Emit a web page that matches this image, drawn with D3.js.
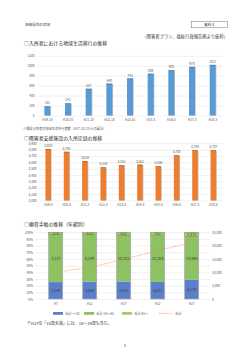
<!DOCTYPE html>
<html lang="ja">
<head>
<meta charset="utf-8">
<title>茨城県内の状況</title>
<script src="https://d3js.org/d3.v7.min.js"></script>
<style>
  body { margin: 0; background: #fff; }
  text { font-family: "Noto Sans CJK JP", "Noto Sans", sans-serif; }
  .tick text { fill: #595959; }
  .grid line { stroke: #d9d9d9; stroke-width: 0.4; }
</style>
</head>
<body>
<script>
// 地域生活移行
var moveCats = ["H19.10", "H20.10", "H21.10", "H22.10", "H23.10", "H25.3", "H26.3", "H27.3", "H28.3"];
var moveVals = [181, 242, 537, 640, 743, 839, 908, 978, 1017];
var moveTicks = [0, 200, 400, 600, 800, 1000, 1200];

// 入所定員
var capCats = ["H19.3", "H20.3", "H21.3", "H22.3", "H23.3", "H24.3", "H25.3", "H26.3", "H27.3", "H28.3"];
var capVals = [3808, 3765, 3619, 3519, 3552, 3562, 3536, 3708, 3788, 3787];
var capTicks = [3000, 3100, 3200, 3300, 3400, 3500, 3600, 3700, 3800, 3900];

// 療育手帳
var bookCats = ["H7", "H12", "H17", "H22", "H27"];
var under18 = [2549, 3064, 3915, 4627, 6138];
var age18to65 = [7127, 8293, 10342, 12504, 13696];
var over65 = [370, 415, 632, 932, 1372];
var bookTotal = [10046, 11772, 14889, 18063, 21206];
var pctTicks = [0, .1, .2, .3, .4, .5, .6, .7, .8, .9, 1];
var cntTicks = [0, 5000, 10000, 15000, 20000, 25000];
var legendNames = ["合計 ～18", "合計 18～65", "合計 65～", "合計"];

var width = 250, height = 353;
var svg = d3.select("body").append("svg")
  .attr("width", width).attr("height", height);

var fmt = d3.format(",");

// header
svg.append("text").attr("x", 25).attr("y", 25.5).attr("font-size", 3.6).attr("fill", "#333").text("茨城県内の状況");
svg.append("rect").attr("x", 191.5).attr("y", 21.3).attr("width", 36).attr("height", 6.5)
  .attr("fill", "none").attr("stroke", "#555").attr("stroke-width", 0.4);
svg.append("text").attr("x", 209.5).attr("y", 25.9).attr("font-size", 3.6).attr("text-anchor", "middle").attr("fill", "#333").text("資料４");
svg.append("text").attr("x", 228).attr("y", 37.5).attr("font-size", 4.3).attr("text-anchor", "end").attr("fill", "#333").text("（障害者プラン、福祉行政報告例より抜粋）");

function heading(y, t) {
  svg.append("text").attr("x", 24).attr("y", y).attr("font-size", 4.9).attr("fill", "#222").text(t);
}
heading(45.3, "○入所者における地域生活移行の推移");
heading(140.2, "○障害者支援施設の入所定員の推移");
heading(226, "○療育手帳の推移（年齢別）");

// simple bar chart
function barChart(opt) {
  var g = svg.append("g");
  var x = d3.scaleBand().domain(opt.cats).range(opt.xr);
  var y = d3.scaleLinear().domain(opt.dom).range(opt.yr);

  g.append("g").attr("class", "grid")
    .attr("transform", "translate(" + opt.xr[0] + ",0)")
    .call(d3.axisLeft(y).tickValues(opt.ticks).tickSize(-(opt.xr[1] - opt.xr[0]))
      .tickFormat(opt.tf).tickPadding(2.5))
    .call(function (a) { a.select(".domain").remove(); })
    .selectAll("text").attr("font-size", 3.2);

  var bw = opt.bw;
  var bars = g.selectAll(".bar").data(opt.vals).enter();
  bars.append("rect")
    .attr("x", function (d, i) { return x(opt.cats[i]) + x.bandwidth() / 2 - bw / 2 + 0.7; })
    .attr("y", function (d) { return y(d) + 0.4; })
    .attr("width", bw).attr("height", function (d) { return y(opt.dom[0]) - y(d) - 0.4; })
    .attr("fill", "#bfbfbf");
  bars.append("rect")
    .attr("x", function (d, i) { return x(opt.cats[i]) + x.bandwidth() / 2 - bw / 2; })
    .attr("y", function (d) { return y(d); })
    .attr("width", bw).attr("height", function (d) { return y(opt.dom[0]) - y(d); })
    .attr("fill", opt.color);
  bars.append("rect")
    .attr("x", function (d, i) { return x(opt.cats[i]) + x.bandwidth() / 2 - bw / 2; })
    .attr("y", function (d) { return y(d); })
    .attr("width", bw).attr("height", 0.6)
    .attr("fill", opt.dark);
  bars.append("text")
    .attr("x", function (d, i) { return x(opt.cats[i]) + x.bandwidth() / 2; })
    .attr("y", function (d) { return y(d) - 2; })
    .attr("text-anchor", "middle").attr("font-size", 3.2).attr("fill", "#595959")
    .text(function (d) { return opt.tf(d); });

  g.append("g")
    .attr("transform", "translate(0," + opt.yr[0] + ")")
    .call(d3.axisBottom(x).tickSize(0).tickPadding(3.5))
    .call(function (a) { a.select(".domain").remove(); })
    .selectAll("text").attr("font-size", 3.2);
}

barChart({ cats: moveCats, vals: moveVals, ticks: moveTicks, dom: [0, 1200], xr: [37, 223], yr: [115.5, 55.8],
  bw: 6, color: "#5b9bd5", dark: "#41719c", tf: d3.format("d") });

svg.append("text").attr("x", 23).attr("y", 130).attr("font-size", 3.2).attr("fill", "#555")
  .text("※施設入所者の地域生活移行者数（H17.10.1からの累計）");

barChart({ cats: capCats, vals: capVals, ticks: capTicks, dom: [3000, 3900], xr: [39, 222.5], yr: [200.5, 143.2],
  bw: 5.5, color: "#ed7d31", dark: "#ae5a21", tf: fmt });

// stacked 100% chart
(function () {
  var g = svg.append("g");
  var x = d3.scaleBand().domain(bookCats).range([38.7, 208.7]);
  var yp = d3.scaleLinear().domain([0, 1]).range([299, 232.3]);
  var yc = d3.scaleLinear().domain([0, 25000]).range([299, 232.3]);

  g.append("g").attr("class", "grid")
    .attr("transform", "translate(36,0)")
    .call(d3.axisLeft(yp).tickValues(pctTicks).tickSize(-(210 - 36)).tickFormat(d3.format(".0%")).tickPadding(3))
    .call(function (a) { a.select(".domain").remove(); })
    .selectAll("text").attr("font-size", 3.2);

  g.append("g")
    .attr("transform", "translate(210,0)")
    .call(d3.axisRight(yc).tickValues(cntTicks).tickSize(0).tickFormat(fmt).tickPadding(2))
    .call(function (a) { a.select(".domain").remove(); })
    .selectAll("text").attr("font-size", 3.2);

  var rows = bookCats.map(function (c, i) {
    return { cat: c, a: under18[i], b: age18to65[i], c: over65[i] };
  });
  var keys = ["a", "b", "c"];
  var colors = { a: "#5a80cc", b: "#8dc263", c: "#9fd05f" };
  var series = d3.stack().keys(keys).offset(d3.stackOffsetExpand)(rows);
  var bw = 14;

  series.forEach(function (s) {
    var k = s.key;
    g.selectAll(".s" + k).data(s).enter().append("rect")
      .attr("x", function (d) { return x(d.data.cat) + x.bandwidth() / 2 - bw / 2; })
      .attr("y", function (d) { return yp(d[1]); })
      .attr("width", bw)
      .attr("height", function (d) { return yp(d[0]) - yp(d[1]); })
      .attr("fill", colors[k])
      .attr("stroke", k == "c" ? "#4f7a2c" : "none").attr("stroke-width", 0.4);
    g.selectAll(".t" + k).data(s).enter().append("text")
      .attr("x", function (d) { return x(d.data.cat) + x.bandwidth() / 2; })
      .attr("y", function (d) { return (yp(d[0]) + yp(d[1])) / 2 + 1.4; })
      .attr("text-anchor", "middle").attr("font-size", 3.8).attr("fill", "#404040")
      .text(function (d) { return fmt(d.data[k]); });
  });

  g.selectAll(".frame").data(rows).enter().append("rect")
    .attr("x", function (d) { return x(d.cat) + x.bandwidth() / 2 - bw / 2; })
    .attr("y", yp(1)).attr("width", bw).attr("height", yp(0) - yp(1))
    .attr("fill", "none").attr("stroke", "#a6a6a6").attr("stroke-width", 0.7);

  var line = d3.line()
    .x(function (d, i) { return x(bookCats[i]) + x.bandwidth() / 2; })
    .y(function (d) { return yc(d); });
  g.append("path").datum(bookTotal).attr("d", line)
    .attr("fill", "none").attr("stroke", "#f0883e").attr("stroke-width", 0.8)
    .attr("stroke-dasharray", "0.8,0.9");

  g.append("g")
    .attr("transform", "translate(0,299)")
    .call(d3.axisBottom(x).tickSize(0).tickPadding(4))
    .call(function (a) { a.select(".domain").remove(); })
    .selectAll("text").attr("font-size", 3.2);

  // legend
  var lx = [53, 84, 122, 159];
  var lc = [colors.a, colors.b, colors.c];
  legendNames.forEach(function (n, i) {
    if (i < 3) {
      g.append("rect").attr("x", lx[i]).attr("y", 312).attr("width", 10).attr("height", 2.8).attr("fill", lc[i]);
    } else {
      g.append("line").attr("x1", lx[i]).attr("x2", lx[i] + 13).attr("y1", 313.4).attr("y2", 313.4)
        .attr("stroke", "#f0883e").attr("stroke-width", 0.8).attr("stroke-dasharray", "0.8,0.9");
    }
    g.append("text").attr("x", lx[i] + (i < 3 ? 12 : 16)).attr("y", 314.6)
      .attr("font-size", 3.3).attr("fill", "#595959").text(n);
  });
})();

svg.append("text").attr("x", 27).attr("y", 325).attr("font-size", 4).attr("fill", "#333")
  .text("※H27の「18歳未満」には、18～19歳も含む。");
svg.append("text").attr("x", 125).attr("y", 347).attr("font-size", 3.5).attr("text-anchor", "middle").attr("fill", "#333")
  .text("5");
</script>
</body>
</html>
